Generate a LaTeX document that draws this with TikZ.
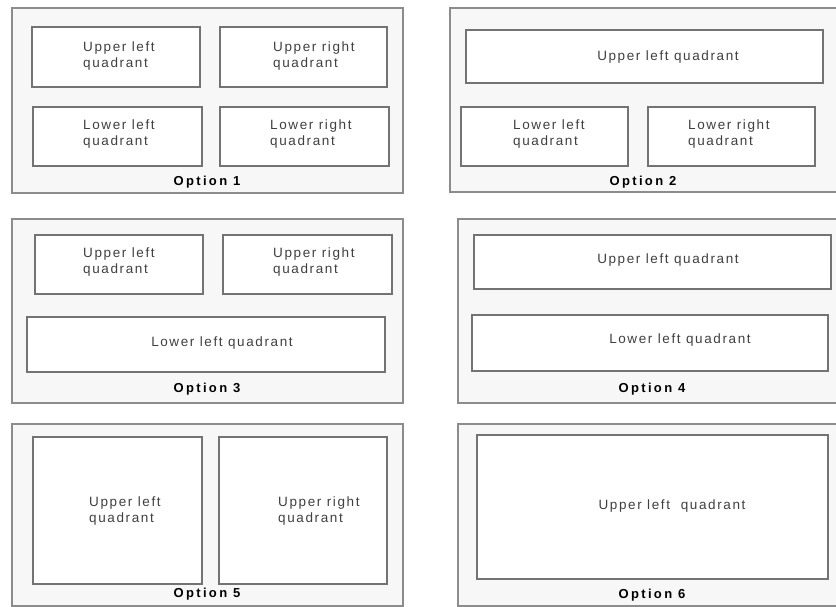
\documentclass[tikz,border=0pt]{standalone}
\usepackage{fontspec}
\setmainfont{Liberation Sans}
\newfontfamily\lblfont[LetterSpace=12]{Liberation Sans}
\newfontfamily\optfont[LetterSpace=18]{Liberation Sans}
\usetikzlibrary{fit}
\begin{document}
\begin{tikzpicture}[x=1pt,y=-1pt,
  panel/.style={draw=black!45, fill=black!3, line width=1.3pt, inner sep=0pt},
  box/.style={draw=black!55, fill=white, line width=1.3pt, inner sep=0pt},
  lbl/.style={font=\lblfont\fontsize{13.5}{16}\selectfont, text=black!75, align=left, inner sep=0pt},
  opt/.style={font=\optfont\bfseries\fontsize{13}{15}\selectfont, inner sep=0pt}]
\useasboundingbox (0,0) rectangle (836,607);
\fill[white] (0,0) rectangle (836,607);

% ---------- Option 1 ----------
\node[panel, fit={(12,8) (403,193)}] (p1) {};
\node[box, fit={(32,27) (200,87)}] (p1ul) {};
\node[box, fit={(220,27) (387,87)}] (p1ur) {};
\node[box, fit={(33,107) (202,166)}] (p1ll) {};
\node[box, fit={(220,107) (389,166)}] (p1lr) {};
\node[lbl, anchor=west] (t1ul) at (83,56) {Upper left\\quadrant};
\node[lbl, anchor=west] (t1ur) at (273,56) {Upper right\\quadrant};
\node[lbl, anchor=west] (t1ll) at (83,134) {Lower left\\quadrant};
\node[lbl, anchor=west] (t1lr) at (270,134) {Lower right\\quadrant};
\node[opt] (o1) at (207,182) {Option 1};

% ---------- Option 2 ----------
\node[panel, fit={(450,8) (842,192)}] (p2) {};
\node[box, fit={(466,30) (823,83)}] (p2u) {};
\node[box, fit={(461,107) (628,166)}] (p2ll) {};
\node[box, fit={(648,107) (815,166)}] (p2lr) {};
\node[lbl] (t2u) at (668,57) {Upper left quadrant};
\node[lbl, anchor=west] (t2ll) at (513,134) {Lower left\\quadrant};
\node[lbl, anchor=west] (t2lr) at (688,134) {Lower right\\quadrant};
\node[opt] (o2) at (643,182) {Option 2};

% ---------- Option 3 ----------
\node[panel, fit={(12,219) (403,403)}] (p3) {};
\node[box, fit={(35,235) (203,294)}] (p3ul) {};
\node[box, fit={(223,235) (392,294)}] (p3ur) {};
\node[box, fit={(27,317) (385,372)}] (p3l) {};
\node[lbl, anchor=west] (t3ul) at (83,262) {Upper left\\quadrant};
\node[lbl, anchor=west] (t3ur) at (273,262) {Upper right\\quadrant};
\node[lbl] (t3l) at (222,343) {Lower left quadrant};
\node[opt] (o3) at (207,389) {Option 3};

% ---------- Option 4 ----------
\node[panel, fit={(458,219) (842,403)}] (p4) {};
\node[box, fit={(474,235) (831,289)}] (p4u) {};
\node[box, fit={(472,315) (828,371)}] (p4l) {};
\node[lbl] (t4u) at (668,260) {Upper left quadrant};
\node[lbl] (t4l) at (680,340) {Lower left quadrant};
\node[opt] (o4) at (652,389) {Option 4};

% ---------- Option 5 ----------
\node[panel, fit={(12,424) (403,606)}] (p5) {};
\node[box, fit={(33,437) (202,584)}] (p5l) {};
\node[box, fit={(219,437) (387,584)}] (p5r) {};
\node[lbl, anchor=west] (t5l) at (89,511) {Upper left\\quadrant};
\node[lbl, anchor=west] (t5r) at (278,511) {Upper right\\quadrant};
\node[opt] (o5) at (207,594) {Option 5};

% ---------- Option 6 ----------
\node[panel, fit={(458,424) (842,606)}] (p6) {};
\node[box, fit={(477,435) (828,579)}] (p6b) {};
\node[lbl] (t6) at (672,506) {Upper left~~quadrant};
\node[opt] (o6) at (652,595) {Option 6};
\end{tikzpicture}
\end{document}
